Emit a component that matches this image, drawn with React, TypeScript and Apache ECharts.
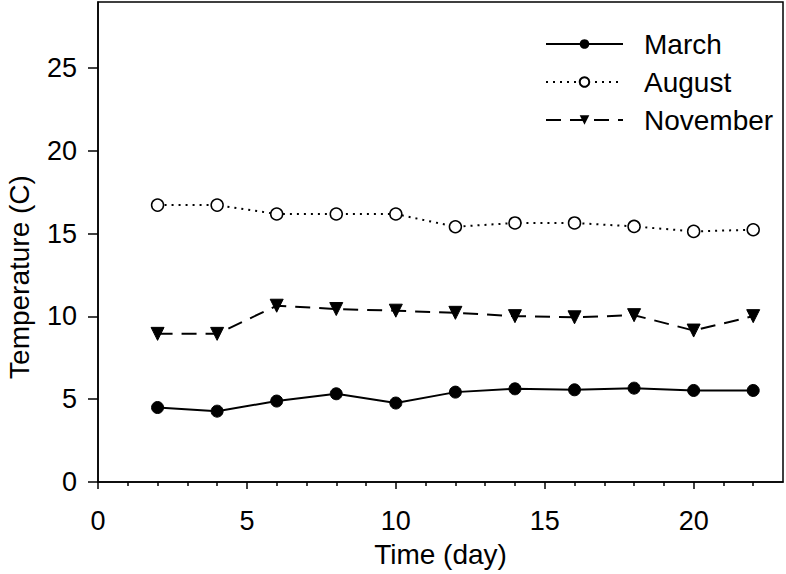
import React, { useEffect, useRef } from "react";
import * as echarts from "echarts";

const days = [2, 4, 6, 8, 10, 12, 14, 16, 18, 20, 22];
const march = [4.5, 4.28, 4.89, 5.33, 4.77, 5.43, 5.63, 5.57, 5.67, 5.53, 5.53];
const august = [16.73, 16.73, 16.19, 16.19, 16.19, 15.42, 15.65, 15.65, 15.44, 15.14, 15.24];
const november = [8.95, 8.95, 10.65, 10.45, 10.35, 10.22, 10.02, 9.95, 10.08, 9.15, 10.02];
const xMajorTicks = [0, 5, 10, 15, 20];
const xMinorTicks = [1, 2, 3, 4, 6, 7, 8, 9, 11, 12, 13, 14, 16, 17, 18, 19, 21, 22];
const yTicks = [0, 5, 10, 15, 20, 25];

const font = "Liberation Sans, Arial, Helvetica, sans-serif";
const fs = 27;
const fsTitle = 28;

export default function App() {
  const ref = useRef<HTMLDivElement>(null);
  useEffect(() => {
    const chart = echarts.init(ref.current!, null, { renderer: "svg" });
    const pair = (ys: number[]) => days.map((d, i) => [d, ys[i]]);
    chart.setOption({
      animation: false,
      textStyle: { fontFamily: font, color: "#000" },
      grid: {
        left: 98, right: 3, top: 2, bottom: 92,
        show: true, borderColor: "#000", borderWidth: 1.5, backgroundColor: "transparent",
      },
      legend: {
        orient: "vertical",
        left: 545, top: 30, padding: 0,
        itemWidth: 77, itemHeight: 12, itemGap: 10,
        textStyle: { fontSize: fsTitle, fontFamily: font, color: "#000", lineHeight: 26.5, padding: [0, 0, 0, 16] },
        data: ["March", "August", "November"],
      },
      graphic: [
        {
          type: "text",
          x: 19, y: 277, rotation: Math.PI / 2,
          style: {
            text: "Temperature (C)", fontSize: fsTitle, fontFamily: font, fill: "#000",
            align: "center", verticalAlign: "middle",
          },
        },
      ],
      xAxis: [
        {
          type: "value", min: 0, max: 23, position: "bottom",
          name: "Time (day)", nameLocation: "middle", nameGap: 58,
          nameTextStyle: { fontSize: fsTitle, color: "#000", fontFamily: font },
          axisLine: { show: true, lineStyle: { color: "#000", width: 1.5 } },
          axisTick: { show: true, customValues: xMajorTicks, length: 7, lineStyle: { color: "#000", width: 1.5 } },
          axisLabel: { customValues: xMajorTicks, fontSize: fs, color: "#000", margin: 25, fontFamily: font },
          splitLine: { show: false },
        },
        {
          type: "value", min: 0, max: 23, position: "bottom",
          axisLine: { show: false },
          axisTick: { show: true, customValues: xMinorTicks, length: 4, lineStyle: { color: "#000", width: 1.5 } },
          axisLabel: { show: false },
          splitLine: { show: false },
        },
      ],
      yAxis: {
        type: "value", min: 0, max: 29,
        axisLine: { show: true, lineStyle: { color: "#000", width: 1.5 } },
        axisTick: { show: true, customValues: yTicks, length: 10, lineStyle: { color: "#000", width: 1.5 } },
        axisLabel: { customValues: yTicks, fontSize: fs, color: "#000", margin: 21, fontFamily: font },
        splitLine: { show: false },
      },
      series: [
        {
          name: "March", type: "line", data: pair(march),
          symbol: "circle", symbolSize: 12,
          itemStyle: { color: "#000", borderColor: "#000" },
          lineStyle: { color: "#000", width: 2, type: "solid" },
        },
        {
          name: "August", type: "line", data: pair(august),
          symbol: "circle", symbolSize: 12,
          itemStyle: { color: "#fff", borderColor: "#000", borderWidth: 1.5 },
          lineStyle: { color: "#000", width: 2, type: [2, 5] },
        },
        {
          name: "November", type: "line", data: pair(november),
          symbol: "triangle", symbolSize: 13, symbolRotate: 180,
          itemStyle: { color: "#000", borderColor: "#000" },
          lineStyle: { color: "#000", width: 2, type: [15, 9] },
        },
      ],
    });
    return () => chart.dispose();
  }, []);
  return <div ref={ref} style={{ width: 786, height: 574, position: "absolute", left: 0, top: 0 }} />;
}
